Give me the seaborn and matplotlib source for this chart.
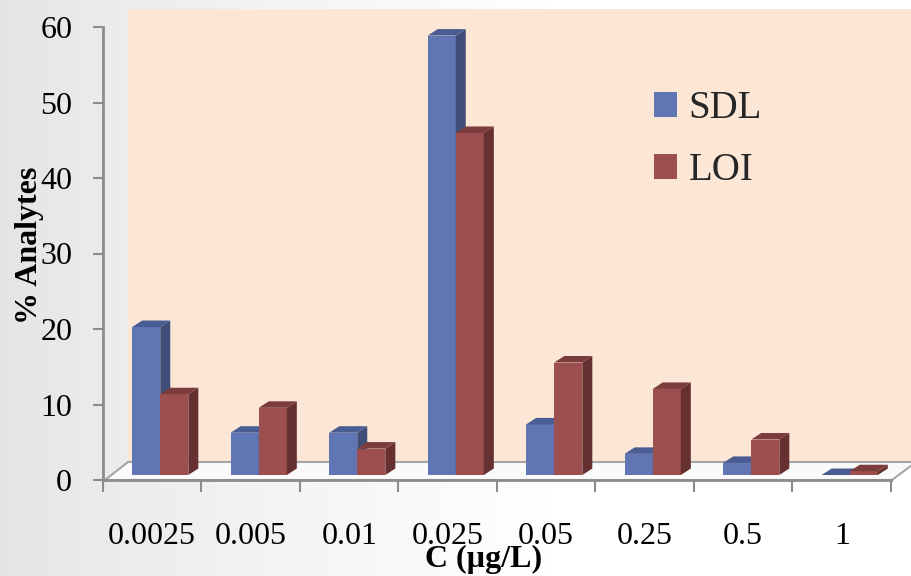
import numpy as np
import pandas as pd
import matplotlib
matplotlib.use("Agg")
import matplotlib.pyplot as plt
import seaborn as sns
from matplotlib.patches import Polygon, Rectangle, Patch
from matplotlib.transforms import ScaledTranslation

# ---------------- data ----------------
categories = ["0.0025", "0.005", "0.01", "0.025", "0.05", "0.25", "0.5", "1"]
sdl = [19.6, 5.6, 5.6, 58.2, 6.7, 2.8, 1.6, 0.0]
loi = [10.7, 8.9, 3.5, 45.3, 14.9, 11.4, 4.7, 0.5]
series = ["SDL", "LOI"]
yticks = [0, 10, 20, 30, 40, 50, 60]
xlabel = "C (µg/L)"
ylabel = "% Analytes"

df = pd.DataFrame({
    "C": categories * 2,
    "value": sdl + loi,
    "series": [series[0]] * len(categories) + [series[1]] * len(categories),
})

front_colors = ["#6076B4", "#9C4F4E"]
side_colors = ["#3E4E79", "#65302F"]
top_colors = ["#4A5D92", "#7B3C3B"]

sns.set_theme(style="white")
plt.rcParams["font.family"] = ["Liberation Serif", "DejaVu Serif"]

W, H = 912, 576
fig = plt.figure(figsize=(W / 100, H / 100), dpi=100)

def fx(px):
    return px / W

def fy(py):
    return 1 - py / H

# background gradient
bg = fig.add_axes([0, 0, 1, 1], zorder=-10)
xs = np.linspace(0, 1, 400)
v = 0.895 + 0.105 * np.clip(xs / 0.6, 0, 1) ** 0.8
img = np.dstack([np.tile(v, (10, 1))] * 3)
bg.imshow(img, aspect="auto", extent=[0, 1, 0, 1])
bg.axis("off")

# back wall
fig.patches.append(Rectangle((fx(128), fy(462)), fx(912) - fx(128), fy(9) - fy(462),
                             transform=fig.transFigure, facecolor="#FCE6D5",
                             edgecolor="none", zorder=-5))
# floor
fig.patches.append(Polygon([(fx(105), fy(480)), (fx(128), fy(462)), (fx(916), fy(462)),
                            (fx(892), fy(480))], closed=True, transform=fig.transFigure,
                           facecolor="#FAFAFA", edgecolor="#A6A6A6", lw=1.5, zorder=-4))

ax_w_px, ax_h_px = 788, 453
ax = fig.add_axes([fx(103), fy(480), ax_w_px / W, ax_h_px / H])
ax.set_facecolor("none")

sns.barplot(data=df, x="C", y="value", hue="series", order=categories, hue_order=series,
            palette=front_colors, width=0.57, saturation=1, legend=False,
            edgecolor="none", linewidth=0, ax=ax)

ax.set_xlim(-0.5, len(categories) - 0.5)
ax.set_ylim(yticks[0], yticks[-1])

# pseudo-3D faces
px_x = ax_w_px / len(categories)
px_y = ax_h_px / (yticks[-1] - yticks[0])
ddx = 10 / px_x
ddy = 6.5 / px_y
tr = ax.transData + ScaledTranslation(8 / 100, 5 / 100, fig.dpi_scale_trans)
for k, cont in enumerate(ax.containers):
    for bar in cont:
        bar.set_transform(tr)
        bar.set_zorder(3 + k)
        bar.set_clip_on(False)
        x0 = bar.get_x()
        w = bar.get_width()
        h = bar.get_height()
        x1 = x0 + w
        side = Polygon([(x1, 0), (x1 + ddx, ddy), (x1 + ddx, h + ddy), (x1, h)], closed=True,
                       transform=tr, facecolor=side_colors[k], edgecolor="none",
                       zorder=3 + k, clip_on=False)
        top = Polygon([(x0, h), (x1, h), (x1 + ddx, h + ddy), (x0 + ddx, h + ddy)], closed=True,
                      transform=tr, facecolor=top_colors[k], edgecolor="none",
                      zorder=3 + k, clip_on=False)
        ax.add_patch(side)
        ax.add_patch(top)

# spines & ticks
for s in ["top", "right"]:
    ax.spines[s].set_visible(False)
for s in ["left", "bottom"]:
    ax.spines[s].set_color("#8C8C8C")
    ax.spines[s].set_linewidth(2)

ax.set_yticks(yticks)
ax.set_yticklabels([str(t) for t in yticks])
ax.tick_params(axis="y", which="major", left=True, direction="out", length=7.2, width=1.5,
               color="#8C8C8C", pad=15, labelsize=23, labelcolor="black")

ax.set_xticks(np.arange(-0.5, len(categories), 1.0))
ax.set_xticklabels([])
ax.set_xticks(np.arange(len(categories)), minor=True)
ax.set_xticklabels(categories, minor=True)
ax.tick_params(axis="x", which="major", bottom=True, direction="out", length=8.6, width=1.5,
               color="#8C8C8C")
ax.tick_params(axis="x", which="minor", bottom=True, length=0, pad=30, labelsize=23,
               labelcolor="black")

ax.set_xlabel(xlabel, fontsize=23, fontweight="bold", color="black", va="center")
ax.xaxis.set_label_coords((484 - 103) / ax_w_px, (480 - 559) / ax_h_px)
ax.set_ylabel(ylabel, fontsize=23, fontweight="bold", color="black", va="center", ha="center")
ax.yaxis.set_label_coords((30 - 103) / ax_w_px, (480 - 245) / ax_h_px)

handles = [Patch(facecolor=c, edgecolor="none") for c in front_colors]
leg = fig.legend(handles, series, loc="upper left", bbox_to_anchor=(fx(654), fy(90)),
                 bbox_transform=fig.transFigure, frameon=False, fontsize=28,
                 handlelength=0.59, handleheight=0.59, handletextpad=0.3,
                 labelspacing=0.65, borderpad=0, borderaxespad=0)

fig.savefig("out.png", dpi=100)
